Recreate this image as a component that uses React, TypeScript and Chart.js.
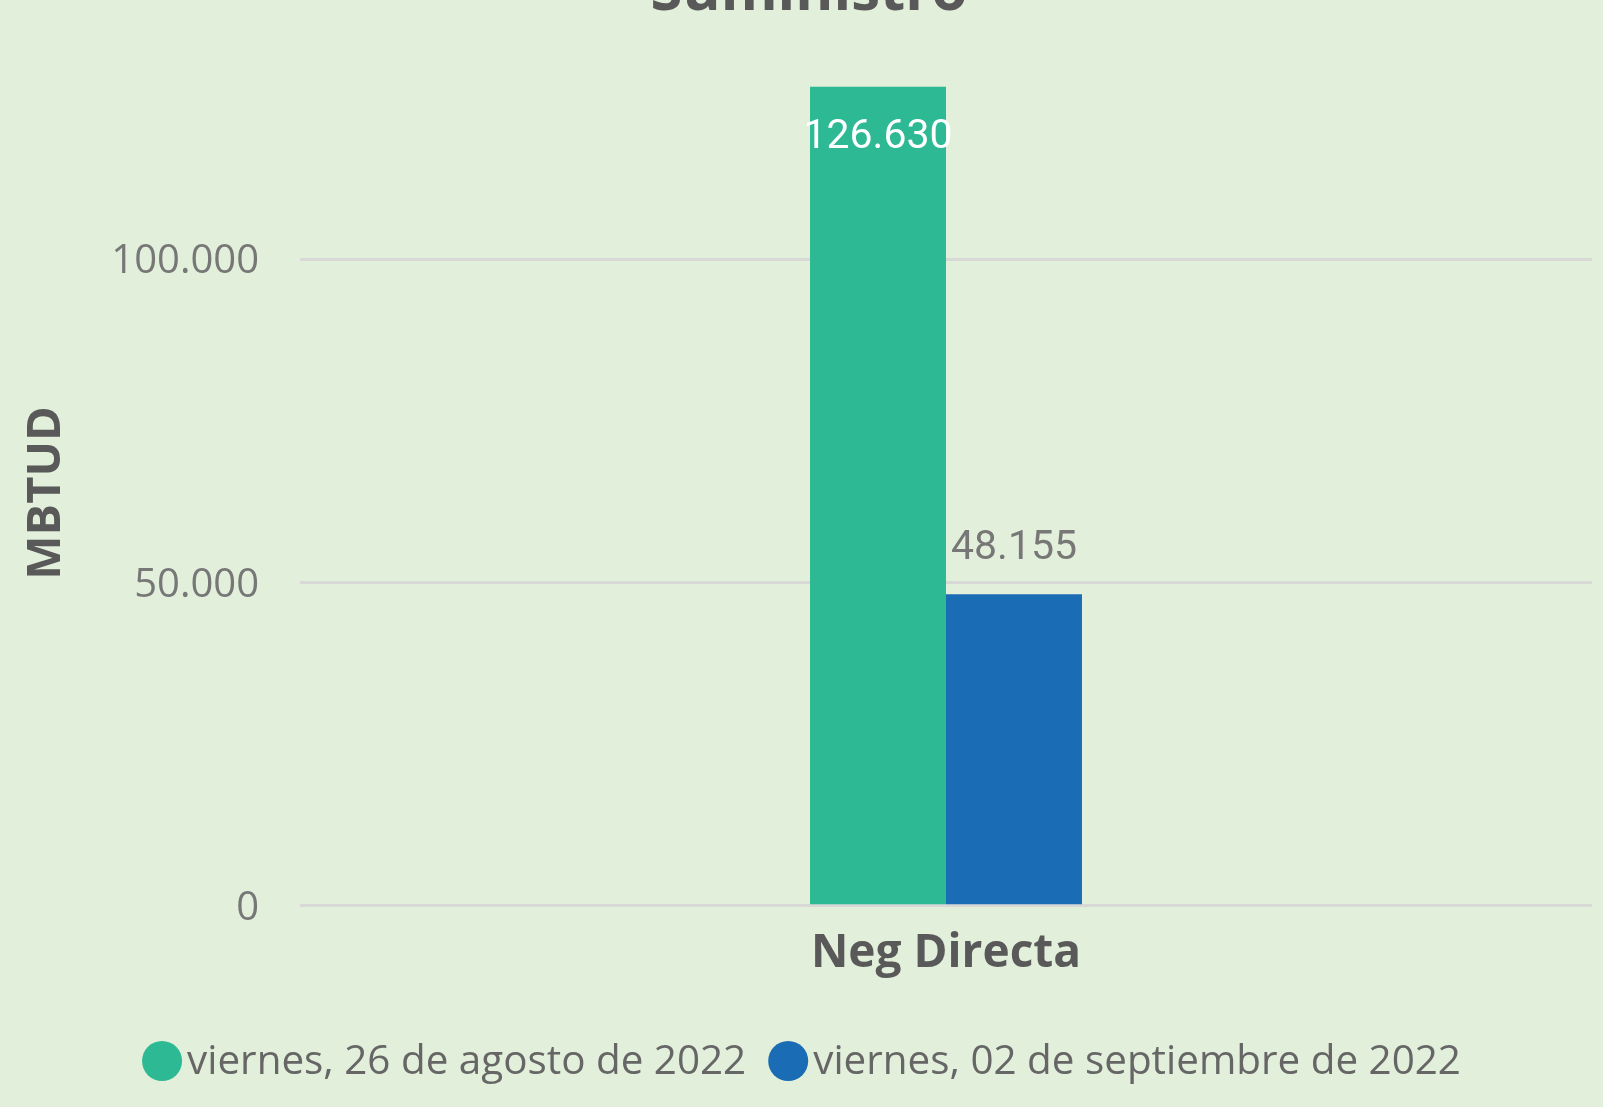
import React, { useEffect, useRef } from "react";
import { Chart, registerables } from "chart.js";

Chart.register(...registerables);

const categories = ["Neg Directa"];
const seriesLabels = ["viernes, 26 de agosto de 2022", "viernes, 02 de septiembre de 2022"];
const series1 = [126630];
const series2 = [48155];
const seriesColors = ["#2DB994", "#1A6DB5"];
const yTickValues = [0, 50000, 100000];
const chartTitle = "Suministro";
const yAxisTitle = "MBTUD";

const W = 1603;
const H = 1107;
const BG = "#E2EFDA";
const SANS = "'Open Sans', 'Noto Sans', sans-serif";

function fmt(v: number): string {
  return Math.round(v).toString().replace(/\B(?=(\d{3})+(?!\d))/g, ".");
}

const titlePlugin = {
  id: "cutTitle",
  afterDraw(chart: any) {
    const ctx = chart.ctx;
    ctx.save();
    ctx.font = `bold 58px ${SANS}`;
    ctx.fillStyle = "#595959";
    ctx.textAlign = "center";
    ctx.textBaseline = "alphabetic";
    ctx.fillText(chartTitle, 809, 10);
    // rotated y-axis title
    ctx.translate(47, 493);
    ctx.rotate(-Math.PI / 2);
    ctx.font = `bold 47px ${SANS}`;
    ctx.textBaseline = "middle";
    ctx.fillText(yAxisTitle, 0, 0);
    ctx.restore();
  },
};

const valueLabelPlugin = {
  id: "valueLabels",
  afterDatasetsDraw(chart: any) {
    const ctx = chart.ctx;
    ctx.save();
    ctx.font = `41px Roboto, 'DejaVu Sans', sans-serif`;
    ctx.textAlign = "center";
    ctx.textBaseline = "middle";
    chart.data.datasets.forEach((ds: any, di: number) => {
      const meta = chart.getDatasetMeta(di);
      meta.data.forEach((bar: any, i: number) => {
        const v = ds.data[i] as number;
        const h = bar.base - bar.y;
        const inside = h > 500;
        if (inside) {
          ctx.fillStyle = "#FFFFFF";
          ctx.fillText(fmt(v), bar.x, bar.y + 51);
        } else {
          ctx.fillStyle = "#777777";
          ctx.fillText(fmt(v), bar.x, bar.y - 46);
        }
      });
    });
    ctx.restore();
  },
};

const legendPlugin = {
  id: "bottomLegend",
  afterDraw(chart: any) {
    const ctx = chart.ctx;
    ctx.save();
    ctx.font = `40.4px ${SANS}`;
    const r = 20;
    const gapText = 5;
    const gapItem = 22;
    const items = chart.data.datasets.map((ds: any) => ({
      label: ds.label as string,
      color: ds.backgroundColor as string,
      w: ctx.measureText(ds.label).width,
    }));
    const total = items.reduce((s: number, it: any) => s + 2 * r + gapText + it.w, 0) + gapItem * (items.length - 1);
    let x = W / 2 - total / 2;
    const cy = 1061;
    items.forEach((it: any) => {
      ctx.fillStyle = it.color;
      ctx.beginPath();
      ctx.arc(x + r, cy, r, 0, Math.PI * 2);
      ctx.fill();
      ctx.fillStyle = "#666666";
      ctx.textAlign = "left";
      ctx.textBaseline = "middle";
      ctx.fillText(it.label, x + 2 * r + gapText, cy + 1);
      x += 2 * r + gapText + it.w + gapItem;
    });
    ctx.restore();
  },
};

export default function App() {
  const ref = useRef<HTMLCanvasElement | null>(null);

  useEffect(() => {
    document.body.style.margin = "0";
    const canvas = ref.current;
    if (!canvas) return;
    const chart = new Chart(canvas, {
      type: "bar",
      data: {
        labels: categories,
        datasets: [
          { label: seriesLabels[0], data: series1, backgroundColor: seriesColors[0], borderWidth: 0 },
          { label: seriesLabels[1], data: series2, backgroundColor: seriesColors[1], borderWidth: 0 },
        ],
      },
      options: {
        animation: false,
        responsive: false,
        devicePixelRatio: 1,
        categoryPercentage: 0.2105,
        barPercentage: 1,
        layout: { padding: { top: 64, right: 11, bottom: 106, left: 0 } },
        plugins: {
          legend: { display: false },
          title: { display: false },
          tooltip: { enabled: false },
        },
        scales: {
          x: {
            grid: { display: false, drawTicks: false },
            border: { display: false },
            ticks: {
              padding: 20,
              color: "#595959",
              font: { family: SANS, size: 46, weight: "bold" },
            },
          },
          y: {
            min: 0,
            max: 130000,
            afterBuildTicks: (axis: any) => {
              axis.ticks = yTickValues.map((v) => ({ value: v }));
            },
            afterFit: (axis: any) => {
              axis.width = 300;
            },
            grid: { color: "#D8D9D6", lineWidth: 3, drawTicks: false },
            border: { display: false },
            ticks: {
              padding: 41,
              labelOffset: 3,
              color: "#777777",
              font: { family: SANS, size: 40 },
              callback: (v: any) => fmt(Number(v)),
            },
            title: { display: false },
          },
        },
      },
      plugins: [titlePlugin, valueLabelPlugin, legendPlugin],
    } as any);
    return () => chart.destroy();
  }, []);

  return (
    <div style={{ position: "absolute", left: 0, top: 0, width: W, height: H, background: BG, overflow: "hidden" }}>
      <canvas ref={ref} width={W} height={H} style={{ display: "block", width: W, height: H }} />
    </div>
  );
}
